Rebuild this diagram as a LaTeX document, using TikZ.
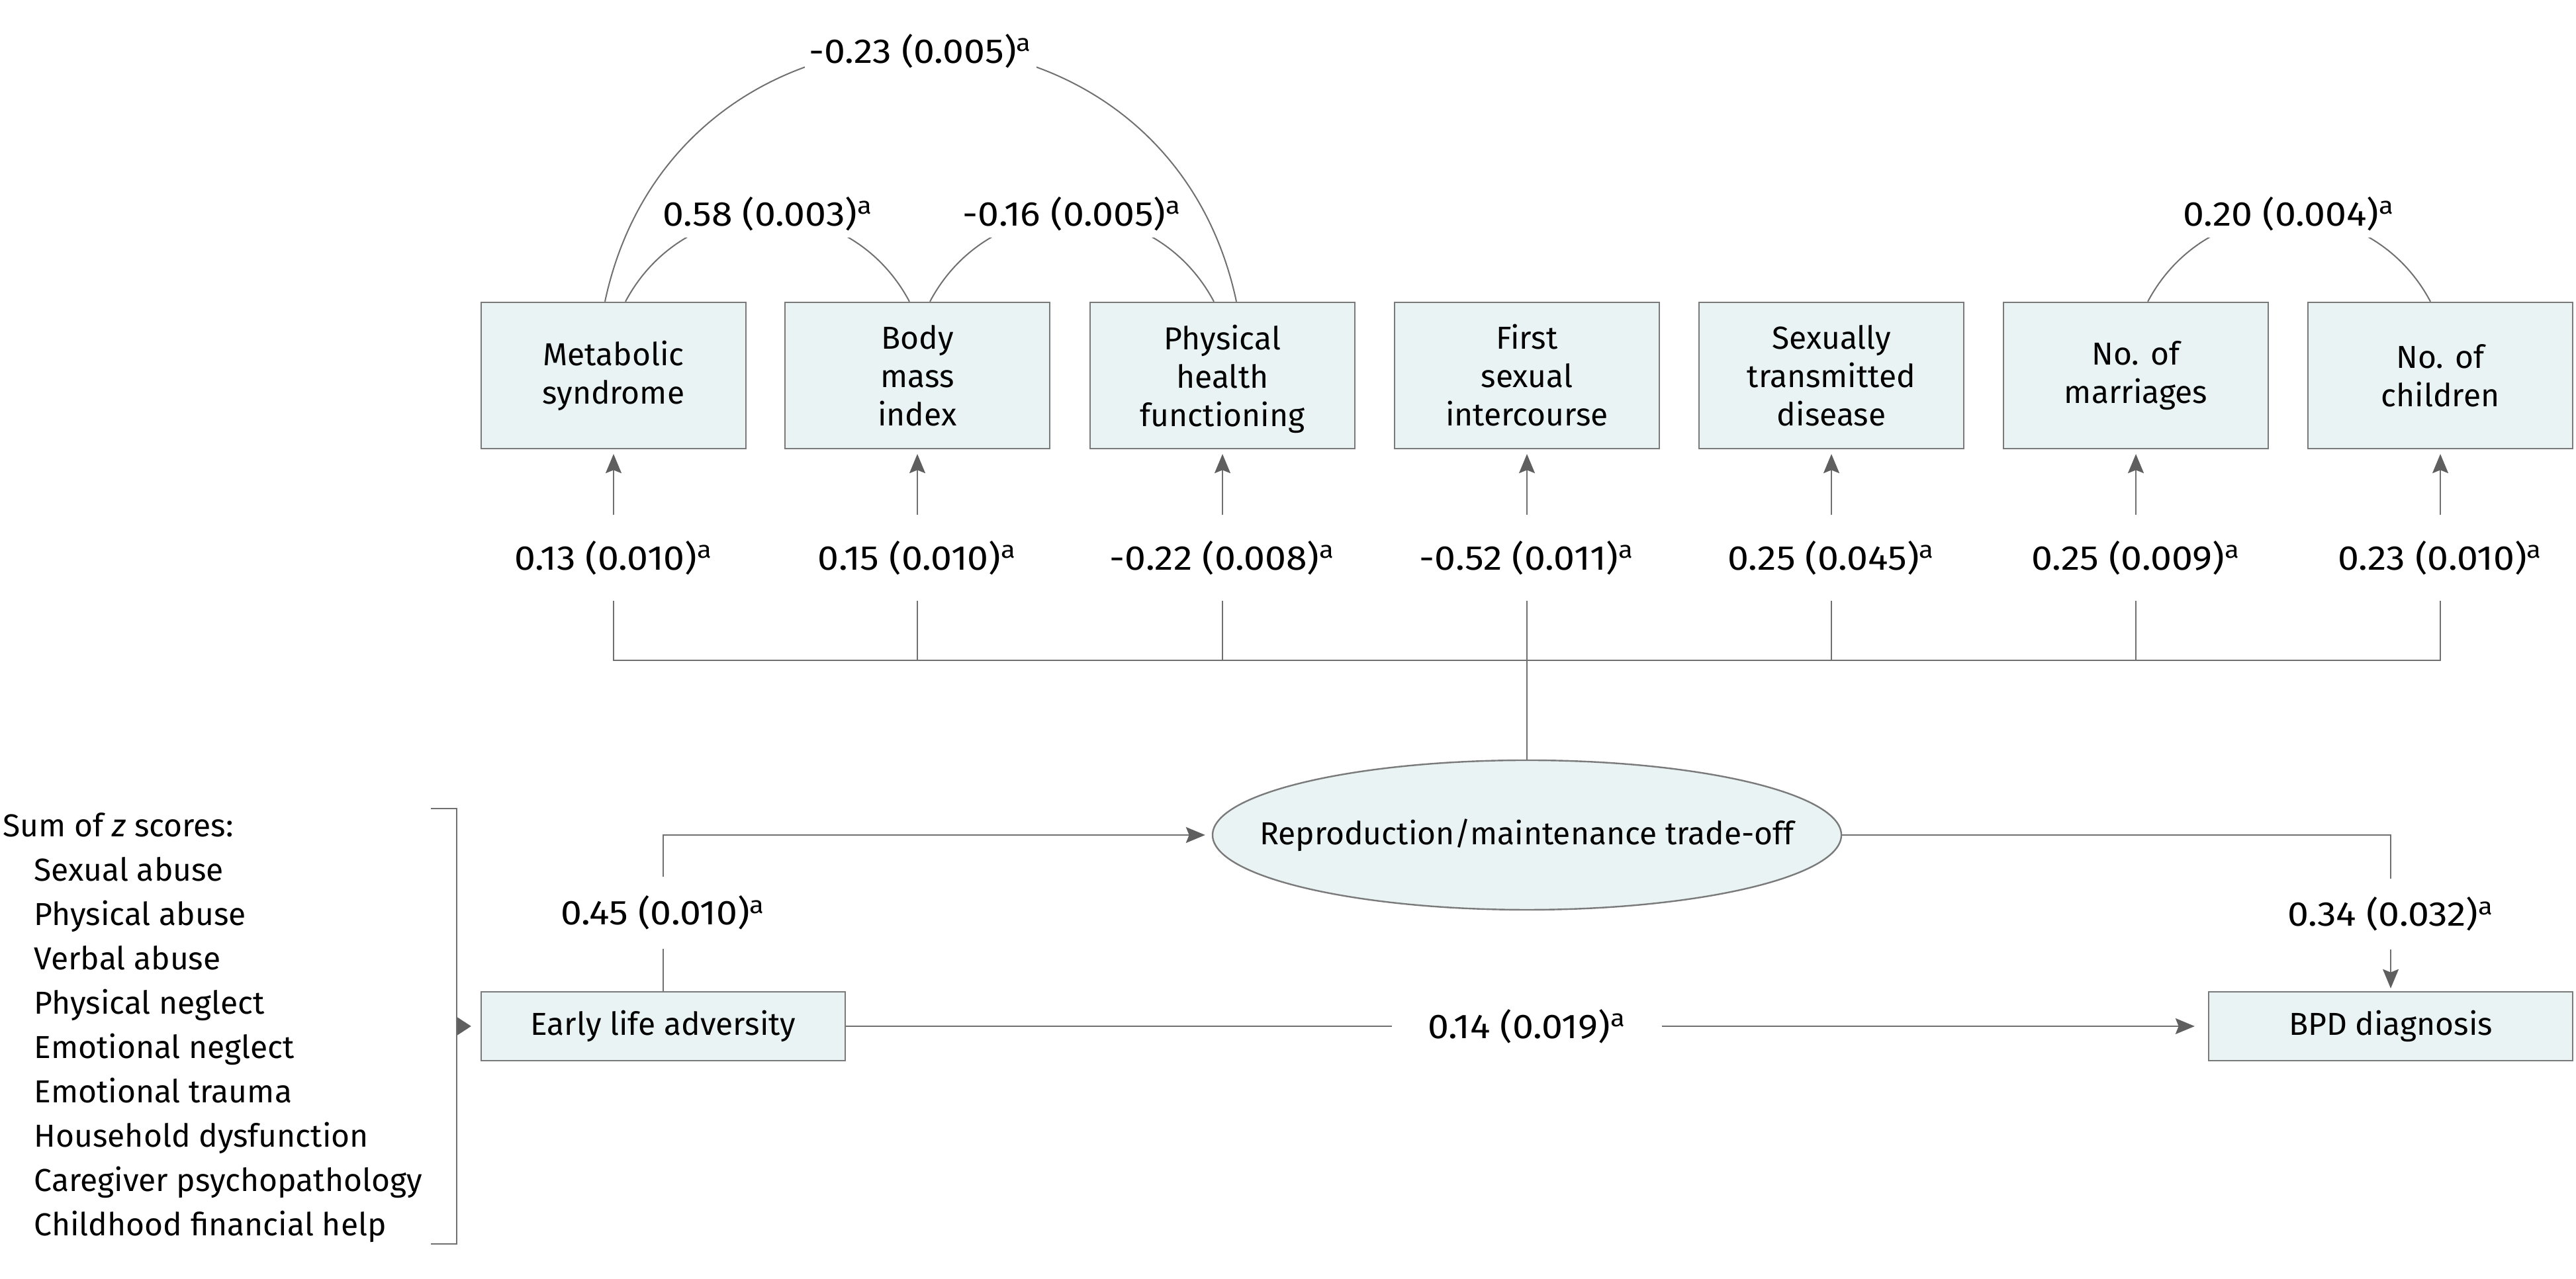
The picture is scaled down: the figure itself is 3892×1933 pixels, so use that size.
\documentclass[tikz,border=0pt]{standalone}
\usepackage{fontspec}
\setmainfont{Fira Sans}
\newfontfamily\numfont{Fira Sans}[FakeStretch=1.1]
\usetikzlibrary{arrows.meta,shapes.geometric}
\definecolor{boxfill}{HTML}{E9F3F4}
\definecolor{boxline}{HTML}{7A7A7A}
\definecolor{connc}{HTML}{707070}
\definecolor{tipc}{HTML}{5F5F5F}
\begin{document}
\begin{tikzpicture}[x=0.25pt,y=0.25pt,
  every node/.style={font=\fontsize{12}{14.5}\selectfont, text=black},
  var/.style={draw=boxline, fill=boxfill, line width=0.6pt, minimum width=100pt, minimum height=55.25pt, align=center, inner sep=0pt},
  wide/.style={var, minimum width=137.5pt, minimum height=26pt},
  latent/.style={ellipse, draw=boxline, fill=boxfill, line width=0.6pt, minimum width=237.5pt, minimum height=56.5pt, inner sep=0pt},
  conn/.style={draw=connc, line width=0.5pt},
  arr/.style={conn, -{Stealth[length=7.25pt, width=6pt, inset=1.2pt, color=tipc]}},
  coef/.style={inner sep=0pt, minimum height=32pt, font=\numfont\fontsize{13}{15}\selectfont},
  corr/.style={fill=white, inner xsep=1.5pt, inner ysep=0pt, minimum height=18pt, font=\numfont\fontsize{13}{15}\selectfont},
  item/.style={anchor=base west, inner sep=0pt}
]
\useasboundingbox (0,0) rectangle (3892,1933);

% observed indicators
\node[var] (met) at (927,1365.5) {Metabolic\\syndrome};
\node[var] (bmi) at (1386,1365.5) {Body\\mass\\index};
\node[var] (phf) at (1847,1365.5) {Physical\\health\\\raisebox{0pt}[\height][0pt]{functioning}};
\node[var] (fsi) at (2307,1365.5) {First\\sexual\\intercourse};
\node[var] (std) at (2767,1365.5) {Sexually\\transmitted\\disease};
\node[var] (mar) at (3227,1365.5) {No. of\\marriages};
\node[var] (chi) at (3687,1365.5) {No. of\\children};

% loadings
\node[coef] (c1) at (927,1090) {0.13 (0.010)\textsuperscript{a}};
\node[coef] (c2) at (1386,1090) {0.15 (0.010)\textsuperscript{a}};
\node[coef] (c3) at (1847,1090) {-0.22 (0.008)\textsuperscript{a}};
\node[coef] (c4) at (2307,1090) {-0.52 (0.011)\textsuperscript{a}};
\node[coef] (c5) at (2767,1090) {0.25 (0.045)\textsuperscript{a}};
\node[coef] (c6) at (3227,1090) {0.25 (0.009)\textsuperscript{a}};
\node[coef] (c7) at (3687,1090) {0.23 (0.010)\textsuperscript{a}};

% latent and outcomes
\node[latent] (rep) at (2307,671) {\makebox[0pt]{Reproduction/maintenance trade-off}};
\node[wide] (ela) at (1002,382) {Early life adversity};
\node[wide] (bpd) at (3612,382) {BPD diagnosis};

\node[coef, minimum height=26.75pt] (c45) at (1002,553.5) {0.45 (0.010)\textsuperscript{a}};
\node[coef, minimum height=26.25pt] (c34) at (3612,551.5) {0.34 (0.032)\textsuperscript{a}};
\node[coef, minimum width=101.5pt] (c14) at (2307,382) {0.14 (0.019)\textsuperscript{a}};

% correlation arcs
\draw[conn] ([xshift=4.5pt]met.north) to[out=62,in=118,looseness=1.17] ([xshift=-3pt]bmi.north);
\draw[conn] ([xshift=4.75pt]bmi.north) to[out=62,in=118,looseness=1.17] ([xshift=-3.25pt]phf.north);
\draw[conn] ([xshift=-3.25pt]met.north) to[out=78,in=102,looseness=1.41] ([xshift=5.25pt]phf.north);
\draw[conn] ([xshift=4.5pt]mar.north) to[out=62,in=118,looseness=1.17] ([xshift=-3.75pt]chi.north);

\node[corr] (r1) at (1160,1610) {0.58 (0.003)\textsuperscript{a}};
\node[corr] (r2) at (1620,1610) {-0.16 (0.005)\textsuperscript{a}};
\node[corr, minimum height=0pt] (r3) at (1391,1856) {-0.23 (0.005)\textsuperscript{a}};
\node[corr] (r4) at (3458,1610) {0.20 (0.004)\textsuperscript{a}};

% loading paths
\foreach \c/\b in {c1/met,c2/bmi,c3/phf,c4/fsi,c5/std,c6/mar,c7/chi}
  \draw[arr, shorten >=1.75pt] (\c.north) -- (\b.south);
\coordinate (bus) at (0,935);
\draw[conn] (c1.south) -- (c1.south |- bus) -- (c7.south |- bus) -- (c7.south);
\foreach \c in {c2,c3,c5,c6}
  \draw[conn] (\c.south) -- (\c.south |- bus);
\draw[conn] (c4.south) -- (rep.north);

% structural paths
\draw[conn] (ela.north) -- (c45.south);
\draw[arr, shorten >=2.5pt] (c45.north) |- (rep.west);
\draw[conn] (rep.east) -| (c34.north);
\draw[arr, shorten >=1pt] (c34.south) -- (bpd.north);
\draw[conn] (ela.east) -- (c14.west);
\draw[arr, shorten >=5pt] (c14.east) -- (bpd.west);

% bracket with list
\draw[conn] (651,711) -- (690,711) -- (690,53) -- (651,53);
\coordinate (brk) at (690,382);
\draw[conn, -{Triangle[length=5.25pt,width=6.75pt,color=tipc]}, shorten >=3.5pt] (brk) -- (ela.west);

\node[item] (l0) at (4,668) {Sum of \textit{z} scores:};
\node[item] (l1) at (51,601) {Sexual abuse};
\node[item] (l2) at (51,534) {Physical abuse};
\node[item] (l3) at (51,467) {Verbal abuse};
\node[item] (l4) at (51,400) {Physical neglect};
\node[item] (l5) at (51,333) {Emotional neglect};
\node[item] (l6) at (51,266) {Emotional trauma};
\node[item] (l7) at (51,199) {Household dysfunction};
\node[item] (l8) at (51,132) {Caregiver psychopathology};
\node[item] (l9) at (51,65) {Childhood financial help};
\end{tikzpicture}
\end{document}
